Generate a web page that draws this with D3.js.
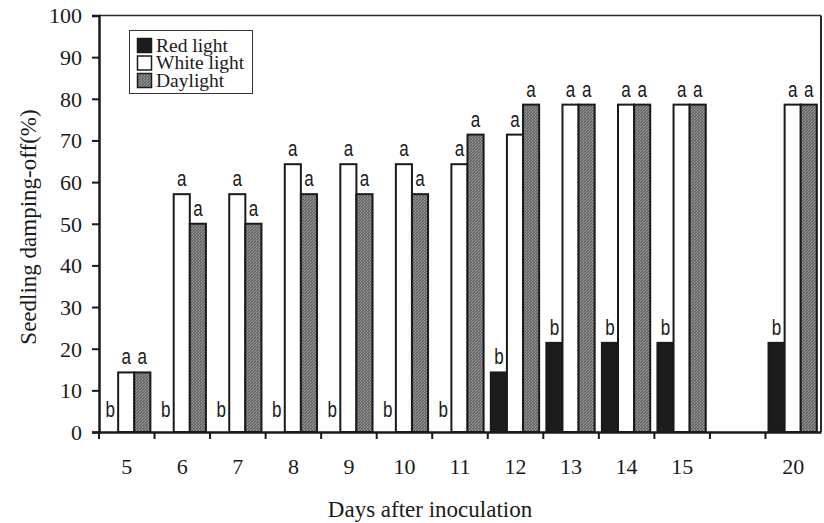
<!DOCTYPE html>
<html>
<head>
<meta charset="utf-8">
<script src="https://cdn.jsdelivr.net/npm/d3@7"></script>
<style>
  body { margin: 0; background: #fff; }
  #chart { width: 824px; height: 523px; }
  .serif { font-family: "Liberation Serif", "DejaVu Serif", serif; fill: #1a1a1a; }
  .letter { font-family: "Liberation Sans", Arial, sans-serif; fill: #1a1a1a; }
</style>
</head>
<body>
<div id="chart"></div>
<script>
// Data (seedling damping-off %, n/14 seedlings)
const days = ['5', '6', '7', '8', '9', '10', '11', '12', '13', '14', '15', '20'];
// x slots: one empty slot between day 15 and day 20
const slots = ['5', '6', '7', '8', '9', '10', '11', '12', '13', '14', '15', 'gap', '20'];
const seriesNames = ['Red light', 'White light', 'Daylight'];

const redLight   = [0, 0, 0, 0, 0, 0, 0, 14.3, 21.4, 21.4, 21.4, 21.4];
const whiteLight = [14.3, 57.1, 57.1, 64.3, 64.3, 64.3, 64.3, 71.4, 78.6, 78.6, 78.6, 78.6];
const daylight   = [14.3, 50, 50, 57.1, 57.1, 57.1, 71.4, 78.6, 78.6, 78.6, 78.6, 78.6];

const redLetters   = ['b', 'b', 'b', 'b', 'b', 'b', 'b', 'b', 'b', 'b', 'b', 'b'];
const whiteLetters = ['a', 'a', 'a', 'a', 'a', 'a', 'a', 'a', 'a', 'a', 'a', 'a'];
const dayLetters   = ['a', 'a', 'a', 'a', 'a', 'a', 'a', 'a', 'a', 'a', 'a', 'a'];

const yTicks = d3.range(0, 101, 10);

const rows = [];
days.forEach((d, i) => {
    rows.push({ day: d, series: 'Red light', value: redLight[i], letter: redLetters[i] });
    rows.push({ day: d, series: 'White light', value: whiteLight[i], letter: whiteLetters[i] });
    rows.push({ day: d, series: 'Daylight', value: daylight[i], letter: dayLetters[i] });
});

// Layout
const W = 824, H = 523;
const margin = { top: 15.5, right: 3, bottom: 91, left: 99 };
const width = W - margin.left - margin.right;
const height = H - margin.top - margin.bottom;

const svg = d3.select('#chart')
    .append('svg')
    .attr('width', W)
    .attr('height', H);

// dotted grey texture for the daylight bars
const defs = svg.append('defs');
const pat = defs.append('pattern')
    .attr('id', 'dots')
    .attr('width', 3)
    .attr('height', 3)
    .attr('patternUnits', 'userSpaceOnUse');
pat.append('rect').attr('width', 3).attr('height', 3).attr('fill', '#858585');
pat.append('rect').attr('x', 0).attr('y', 0).attr('width', 1).attr('height', 1).attr('fill', '#3c3c3c');
pat.append('rect').attr('x', 2).attr('y', 1).attr('width', 1).attr('height', 1).attr('fill', '#4a4a4a');
pat.append('rect').attr('x', 1).attr('y', 2).attr('width', 1).attr('height', 1).attr('fill', '#444');
pat.append('rect').attr('x', 1).attr('y', 0).attr('width', 1).attr('height', 1).attr('fill', '#b5b5b5');
pat.append('rect').attr('x', 0).attr('y', 2).attr('width', 1).attr('height', 1).attr('fill', '#aaa');

const fills = { 'Red light': '#1c1c1c', 'White light': '#ffffff', 'Daylight': 'url(#dots)' };

const g = svg.append('g')
    .attr('transform', `translate(${margin.left},${margin.top})`);

// Scales
const x = d3.scaleBand()
    .domain(slots)
    .range([0, width]);

const xSub = d3.scaleBand()
    .domain(seriesNames)
    .range([x.bandwidth() * 0.055, x.bandwidth() * 0.925]);

const y = d3.scaleLinear()
    .domain([0, 100])
    .range([height, 0]);

// Bars
g.append('g')
    .selectAll('rect')
    .data(rows)
    .enter()
    .append('rect')
    .attr('x', d => x(d.day) + xSub(d.series))
    .attr('y', d => y(d.value))
    .attr('width', xSub.bandwidth())
    .attr('height', d => y(0) - y(d.value))
    .attr('fill', d => fills[d.series])
    .attr('stroke', '#1a1a1a')
    .attr('stroke-width', d => d.value > 0 ? 2 : 0);

// Significance letters
g.append('g')
    .selectAll('text')
    .data(rows)
    .enter()
    .append('text')
    .attr('class', 'letter')
    .attr('text-anchor', 'middle')
    .attr('font-size', 17)
    .attr('transform', d => {
        const cx = x(d.day) + xSub(d.series) + xSub.bandwidth() / 2;
        const cy = y(d.value) - (d.value > 0 ? 8 : 15);
        return `translate(${cx},${cy}) scale(1,1.25)`;
    })
    .text(d => d.letter);

// Frame: top and right border
g.append('line')
    .attr('x1', 0).attr('x2', width)
    .attr('y1', 0).attr('y2', 0)
    .attr('stroke', '#2a2a2a').attr('stroke-width', 1.5);
g.append('line')
    .attr('x1', width).attr('x2', width)
    .attr('y1', 0).attr('y2', height)
    .attr('stroke', '#2a2a2a').attr('stroke-width', 2);

// Y axis
g.append('g')
    .attr('class', 'y-axis')
    .call(d3.axisLeft(y).tickValues(yTicks).tickSize(7).tickPadding(10))
    .call(a => a.select('.domain').attr('stroke', '#1a1a1a').attr('stroke-width', 2.5))
    .call(a => a.selectAll('.tick line').attr('stroke', '#1a1a1a').attr('stroke-width', 2))
    .call(a => a.selectAll('.tick text')
        .attr('class', 'serif')
        .attr('font-size', 22)
        .attr('dy', '0.34em'));

// X axis: labels centred in slots, tick marks at slot edges
g.append('g')
    .attr('class', 'x-axis')
    .attr('transform', `translate(0,${height})`)
    .call(d3.axisBottom(x).tickSize(0).tickPadding(26).tickFormat(d => d === 'gap' ? '' : d))
    .call(a => a.select('.domain').attr('stroke', '#1a1a1a').attr('stroke-width', 2.5))
    .call(a => a.selectAll('.tick text')
        .attr('class', 'serif')
        .attr('font-size', 22));

g.append('g')
    .attr('transform', `translate(0,${height})`)
    .selectAll('line')
    .data(slots)
    .enter()
    .append('line')
    .attr('x1', d => x(d))
    .attr('x2', d => x(d))
    .attr('y1', 0)
    .attr('y2', 7)
    .attr('stroke', '#1a1a1a')
    .attr('stroke-width', 2);

// Axis titles
svg.append('text')
    .attr('class', 'serif')
    .attr('x', 430)
    .attr('y', 517)
    .attr('text-anchor', 'middle')
    .attr('font-size', 23)
    .text('Days after inoculation');

svg.append('text')
    .attr('class', 'serif')
    .attr('transform', 'translate(36,227) rotate(-90)')
    .attr('text-anchor', 'middle')
    .attr('font-size', 23)
    .text('Seedling damping-off(%)');

// Legend
const legend = svg.append('g');
legend.append('rect')
    .attr('x', 129.5).attr('y', 30.5)
    .attr('width', 123).attr('height', 63)
    .attr('fill', '#fff')
    .attr('stroke', '#333').attr('stroke-width', 1);

const legendItem = legend.selectAll('g.item')
    .data(seriesNames)
    .enter()
    .append('g')
    .attr('class', 'item')
    .attr('transform', (d, i) => `translate(137,${51.5 + i * 17.5})`);

legendItem.append('rect')
    .attr('x', 0.5).attr('y', -13)
    .attr('width', 14).attr('height', 14)
    .attr('fill', d => fills[d])
    .attr('stroke', '#1a1a1a')
    .attr('stroke-width', 1.5);

legendItem.append('text')
    .attr('class', 'serif')
    .attr('x', 19)
    .attr('y', 0)
    .attr('font-size', 19.5)
    .text(d => d);
</script>
</body>
</html>
